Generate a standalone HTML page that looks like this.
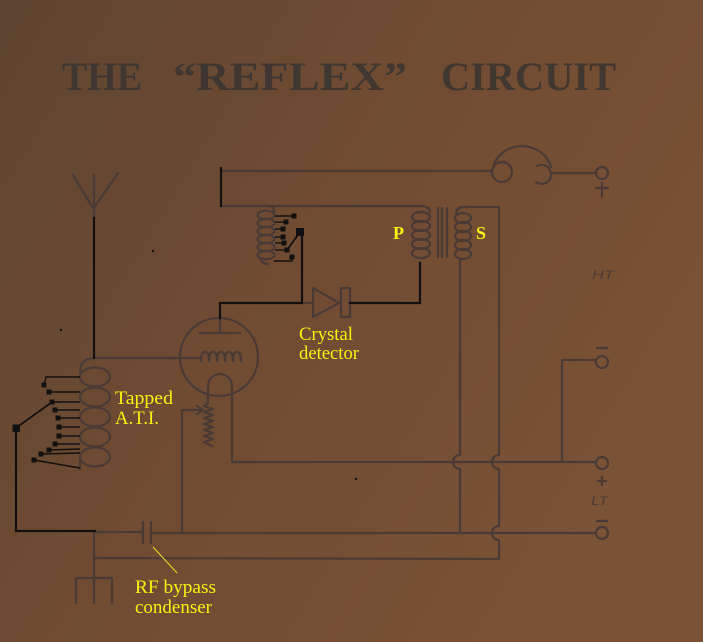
<!DOCTYPE html>
<html><head><meta charset="utf-8"><style>
html,body{margin:0;padding:0;background:#714b31;}
svg{display:block;}
</style></head><body>
<svg width="703" height="642" viewBox="0 0 703 642" xmlns="http://www.w3.org/2000/svg">
<defs>
<linearGradient id="bg" x1="0" y1="0" x2="1" y2="0.55">
<stop offset="0" stop-color="#5e4531"/>
<stop offset="0.45" stop-color="#6f4b32"/>
<stop offset="1" stop-color="#7a5235"/>
</linearGradient>
</defs>
<rect width="703" height="642" fill="url(#bg)"/>

<!-- Title -->
<g font-family="'Liberation Serif',serif" font-weight="bold" font-size="40" fill="#3b3531" opacity="0.9">
<text x="62" y="90" textLength="80" lengthAdjust="spacingAndGlyphs">THE</text>
<text x="173" y="90" textLength="234" lengthAdjust="spacingAndGlyphs">“REFLEX”</text>
<text x="441" y="90" textLength="175" lengthAdjust="spacingAndGlyphs">CIRCUIT</text>
</g>

<!-- Gray original drawing lines -->
<g fill="none" stroke="#4a3a36" stroke-width="2.2" stroke-linecap="round" stroke-linejoin="round">
<!-- antenna -->
<path d="M73,175 L93,208 M94,175 L94,218 M118,173 L94,208"/>
<!-- ATI coil -->
<path d="M180,358 L95,358 Q80,358 80,372"/>
<ellipse cx="95" cy="377" rx="15" ry="9.5"/>
<ellipse cx="95" cy="397" rx="15" ry="9.5"/>
<ellipse cx="95" cy="417" rx="15" ry="9.5"/>
<ellipse cx="95" cy="437" rx="15" ry="9.5"/>
<ellipse cx="95" cy="457" rx="15" ry="9.5"/>
<path d="M80,460 L80,469"/>
<!-- tube -->
<circle cx="219" cy="357" r="39"/>
<path d="M180,358 L201,358"/>
<path d="M201,361 Q201,352 205,352 Q209,352 209,361 Q209,352 213,352 Q217,352 217,361 Q217,352 221,352 Q225,352 225,361 Q225,352 229,352 Q233,352 233,361 Q233,352 237,352 Q241,352 241,361"/>
<path d="M200,333 L240,333 M220,333 L220,318"/>
<path d="M208,403 L208,386 A12,12 0 0 1 232,386 L232,462 L596,462"/>
<path d="M208,403 L204,406 L213,409 L204,412 L213,415 L204,418 L213,421 L204,424 L213,427 L204,430 L213,433 L204,436 L213,439 L204,442 L212,446"/>
<!-- rheostat arrow -->
<path d="M182,533 L182,410 L203,410 M197,406 L203,410 L197,414"/>
<!-- bottom lines -->
<path d="M95,532 L143,532"/>
<path d="M143,522 L143,543 M151,522 L151,543"/>
<path d="M151,533 L596,533"/>
<path d="M94,532 L94,603"/>
<path d="M76,603 L76,578 L112,578 L112,603"/>
<path d="M94,558 L499,559"/>
<!-- top lines -->
<path d="M221,171 L492,171"/>
<path d="M221,206 L420,206 Q430,206 430,212"/>
<!-- reaction coil -->
<path d="M268,206 Q274,206 274,211"/>
<ellipse cx="266" cy="215" rx="8.5" ry="4.3"/>
<ellipse cx="266" cy="223" rx="8.5" ry="4.3"/>
<ellipse cx="266" cy="231" rx="8.5" ry="4.3"/>
<ellipse cx="266" cy="239" rx="8.5" ry="4.3"/>
<ellipse cx="266" cy="247" rx="8.5" ry="4.3"/>
<ellipse cx="266" cy="255" rx="8.5" ry="4.3"/>
<path d="M260,258 Q262,264 268,264"/>
<!-- P coil -->
<ellipse cx="421" cy="217" rx="9" ry="5"/>
<ellipse cx="421" cy="226" rx="9" ry="5"/>
<ellipse cx="421" cy="235" rx="9" ry="5"/>
<ellipse cx="421" cy="244" rx="9" ry="5"/>
<ellipse cx="421" cy="253" rx="9" ry="5"/>
<!-- core -->
<path d="M438,208 L438,257 M442,208 L442,257 M447,208 L447,257"/>
<!-- S coil -->
<path d="M456,213 Q457,207 464,207 L499,207"/>
<ellipse cx="463" cy="218" rx="8" ry="5"/>
<ellipse cx="463" cy="227" rx="8" ry="5"/>
<ellipse cx="463" cy="236" rx="8" ry="5"/>
<ellipse cx="463" cy="245" rx="8" ry="5"/>
<ellipse cx="463" cy="254" rx="8" ry="5"/>
<path d="M460,259 L460,455 A7,7 0 0 0 460,469 L460,533"/>
<path d="M499,207 L499,455 A7,7 0 0 0 499,469 L499,526 A7,7 0 0 0 499,540 L499,559"/>
<!-- detector -->
<path d="M302,303 L313,303"/>
<path d="M313,288 L313,317 L339,303 Z"/>
<rect x="341" y="288" width="9" height="29"/>
<!-- phones -->
<circle cx="502" cy="172" r="10"/>
<path d="M494,164 A30,28 0 0 1 551,167"/>
<path d="M537,166 A9.5,9.5 0 1 1 536,182"/>
<path d="M552,173 L596,173"/>
<circle cx="602" cy="173" r="6"/>
<path d="M596,188 L608,188 M602,183 L602,197"/>
<!-- right terminals -->
<circle cx="602" cy="362" r="6"/>
<path d="M597,348 L607,348"/>
<path d="M596,360 L562,360 L562,462"/>
<circle cx="602" cy="463" r="6"/>
<path d="M598,481 L606,481 M602,477 L602,485"/>
<circle cx="602" cy="533" r="6"/>
<path d="M597,521 L607,521"/>
</g>
<g font-family="'Liberation Sans',sans-serif" font-style="italic" font-size="12" fill="#4a3a36">
<text x="592" y="279" textLength="22" lengthAdjust="spacingAndGlyphs">HT</text>
<text x="591" y="505" textLength="17" lengthAdjust="spacingAndGlyphs">LT</text>
</g>

<!-- Black annotation lines -->
<g fill="none" stroke="#141010" stroke-width="2.2" stroke-linecap="square">
<path d="M94,218 L94,358"/>
<path d="M221,168 L221,206"/>
<path d="M220,318 L220,303 L302,303 L302,233"/>
<path d="M350,303 L420,303 L420,263"/>
<path d="M16,428 L16,531 L95,531"/>
<path d="M16,428 L52,402" stroke-width="1.8"/>
<path d="M300,232 L287,250" stroke-width="1.8"/>
</g>
<g fill="none" stroke="#141010" stroke-width="1.4">
<!-- ATI taps -->
<path d="M44,385 L46,377 L80,377"/>
<path d="M49,392 L80,392"/>
<path d="M52,402 L80,402"/>
<path d="M55,410 L80,410"/>
<path d="M58,418 L80,418"/>
<path d="M59,427 L80,427"/>
<path d="M59,436 L80,436"/>
<path d="M55,444 L80,444"/>
<path d="M49,450 L80,449"/>
<path d="M41,454 L80,453"/>
<path d="M34,460 L80,468"/>
<!-- reaction taps -->
<path d="M275,216 L294,216"/>
<path d="M275,222 L286,222"/>
<path d="M275,229 L283,229"/>
<path d="M275,237 L283,237"/>
<path d="M275,243 L284,243"/>
<path d="M275,250 L287,250"/>
<path d="M274,261 L292,261 L292,257"/>
</g>
<g fill="#111">
<rect x="41.5" y="382.5" width="5" height="5"/>
<rect x="46.5" y="389.5" width="5" height="5"/>
<rect x="49.5" y="399.5" width="5" height="5"/>
<rect x="52.5" y="407.5" width="5" height="5"/>
<rect x="55.5" y="415.5" width="5" height="5"/>
<rect x="56.5" y="424.5" width="5" height="5"/>
<rect x="56.5" y="433.5" width="5" height="5"/>
<rect x="52.5" y="441.5" width="5" height="5"/>
<rect x="46.5" y="447.5" width="5" height="5"/>
<rect x="38.5" y="451.5" width="5" height="5"/>
<rect x="31.5" y="457.5" width="5" height="5"/>
<rect x="12.5" y="424.5" width="7.5" height="7.5"/>
<rect x="291.5" y="213.5" width="5" height="5"/>
<rect x="283.5" y="219.5" width="5" height="5"/>
<rect x="280.5" y="226.5" width="5" height="5"/>
<rect x="280.5" y="234.5" width="5" height="5"/>
<rect x="281.5" y="240.5" width="5" height="5"/>
<rect x="284.5" y="247.5" width="5" height="5"/>
<rect x="289.5" y="254.5" width="5" height="5"/>
<rect x="296" y="228" width="8" height="8"/>
<circle cx="153" cy="251" r="1.2"/>
<circle cx="61" cy="330" r="1.2"/>
<circle cx="356" cy="479" r="1.2"/>
</g>

<!-- Yellow labels -->
<path d="M153,547 L177,573" stroke="#e8e020" stroke-width="1" fill="none"/>
<g font-family="'Liberation Serif',serif" fill="#f8f210">
<text x="393" y="239" font-size="18" font-weight="bold">P</text>
<text x="476" y="239" font-size="18" font-weight="bold">S</text>
<text x="299" y="340" font-size="18.5" textLength="54" lengthAdjust="spacingAndGlyphs">Crystal</text>
<text x="299" y="359" font-size="18.5" textLength="60" lengthAdjust="spacingAndGlyphs">detector</text>
<text x="115" y="404" font-size="19" textLength="58" lengthAdjust="spacingAndGlyphs">Tapped</text>
<text x="115" y="424" font-size="19" textLength="44" lengthAdjust="spacingAndGlyphs">A.T.I.</text>
<text x="135" y="593" font-size="19" textLength="81" lengthAdjust="spacingAndGlyphs">RF bypass</text>
<text x="135" y="613" font-size="19" textLength="77" lengthAdjust="spacingAndGlyphs">condenser</text>
</g>
</svg>
</body></html>
